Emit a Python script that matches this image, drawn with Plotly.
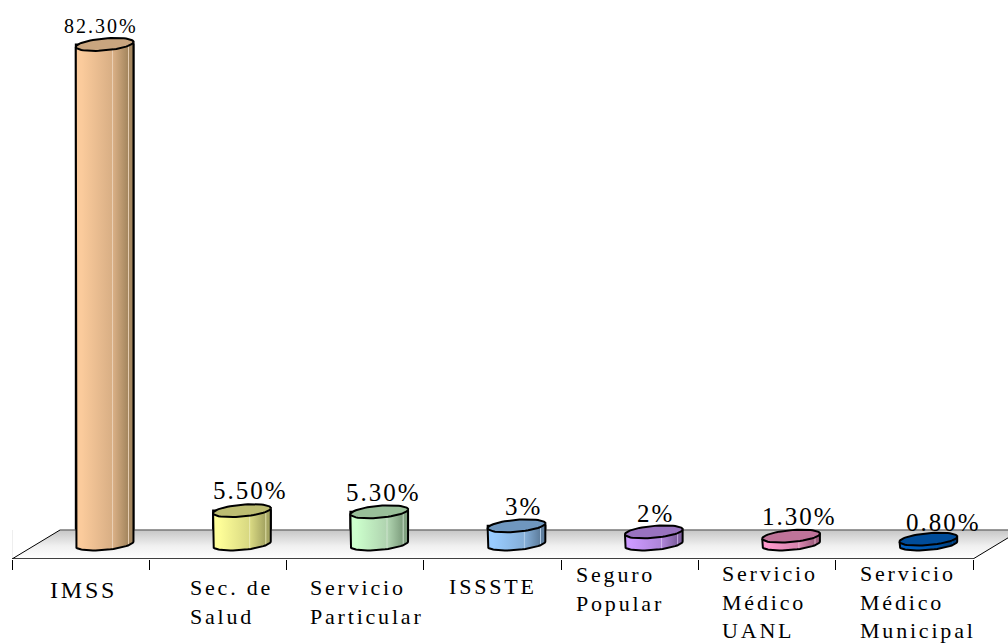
import numpy as np
import plotly.graph_objects as go

# ---- data ----
categories = ["IMSS", "Sec. de<br>Salud", "Servicio<br>Particular", "ISSSTE",
              "Seguro<br>Popular", "Servicio<br>Médico<br>UANL", "Servicio<br>Médico<br>Municipal"]
values = [82.3, 5.5, 5.3, 3.0, 2.0, 1.3, 0.8]
value_labels = ["82.30%", "5.50%", "5.30%", "3%", "2%", "1.30%", "0.80%"]

# ---- style ----
light = ["#FBCB9C", "#FFFF99", "#CCFFCC", "#99CCFF", "#CC99FF", "#FF99CC", "#0060C0"]
dark = ["#A5875F", "#A5A562", "#7F9F7F", "#5F7F9F", "#7F5F9F", "#9F5F7F", "#003C78"]
top = ["#C9A57F", "#BDBD72", "#99BF99", "#6F97BF", "#9973BF", "#BF7399", "#004C99"]
mid = ["#D9AF85", "#D8D882", "#B0D4B0", "#85AFD8", "#AE85D8", "#D885AE", "#0054A8"]
streak = ["#EBD2B8", "#ECECB8", "#D2E6D2", "#B8D2EC", "#D2B8EC", "#ECB8D2", "#0054A8"]
label_size = [20, 25, 25, 25, 25, 25, 25]
label_dx = [-4, 9, 4, 7, 2, 8, 15]
label_dy = [18, 20, 19, 19, 18, 20, 17]
cat_size = [24, 22, 22, 22, 22, 22, 22]
cat_dx = [36, 39, 21, 23, 13, 22, 22]
cat_dy = [16, 14, 14, 13, 1, 0, 0]

PX_X = 961 / 7
PX_Y = 6.07
Y_FRONT = -15 / PX_Y
Y_BACK = 14 / PX_Y
DEPTH = 24 / PX_X
SLANT = 48 / PX_X
A = 0.21
B = 6.0 / PX_Y
S = 2.5 / PX_Y

fig = go.Figure()

# floor
fig.add_trace(go.Scatter(
    x=[-0.5, 6.5, 6.5 + SLANT, -0.5 + SLANT, -0.5],
    y=[Y_FRONT, Y_FRONT, Y_BACK, Y_BACK, Y_FRONT],
    mode="none", fill="toself", hoverinfo="skip",
    fillgradient=dict(type="vertical", colorscale=[[0, "#FFFFFF"], [0.45, "#F0F0F0"], [1, "#C6C6C6"]]),
))
for xs, ys, col, w in [
    ([-0.5, -0.5 + SLANT], [Y_FRONT, Y_BACK], "#000000", 1),
    ([6.5, 6.5 + SLANT], [Y_FRONT, Y_BACK], "#000000", 1),
    ([-0.5 + SLANT, 6.5 + SLANT], [Y_BACK, Y_BACK], "#777777", 1.5),
    ([-0.5, -0.5], [Y_FRONT, Y_BACK], "#DDDDDD", 1),
    ([-0.5, 6.5], [Y_FRONT, Y_FRONT], "#000000", 1.5),
]:
    fig.add_trace(go.Scatter(x=xs, y=ys, mode="lines", cliponaxis=False, hoverinfo="skip",
                             line=dict(color=col, width=w)))

# cylinder bodies (bars) and their shading
centers = [i + DEPTH for i in range(len(values))]
fig.add_trace(go.Bar(x=centers, y=values, base=0, width=2 * A, hoverinfo="skip",
                     marker=dict(color=mid, line=dict(color="#000000", width=2))))

t_all = np.linspace(0, 2 * np.pi, 61)
t_front = np.linspace(np.pi, 0, 31)
for c, v, lo, md, st, hi, tp in zip(centers, values, light, mid, streak, dark, top):
    bx = c + A * np.cos(t_front)
    by = -B * np.sin(t_front) + S * np.cos(t_front)
    px = [c - A] + list(bx) + [c + A, c - A]
    py = [v - S] + list(by) + [v + S, v - S]
    fig.add_trace(go.Scatter(
        x=px, y=py, mode="lines", fill="toself", hoverinfo="skip", cliponaxis=False,
        line=dict(color="#000000", width=2),
        fillgradient=dict(type="horizontal",
                          colorscale=[[0, lo], [0.1, lo], [0.62, md], [0.635, st], [0.65, md],
                                      [0.9, hi], [0.915, st], [0.93, hi], [1, hi]]),
    ))
    fig.add_trace(go.Scatter(
        x=c + A * np.cos(t_all), y=v - B * np.sin(t_all) + S * np.cos(t_all),
        mode="lines", fill="toself", fillcolor=tp, hoverinfo="skip", cliponaxis=False,
        line=dict(color="#000000", width=2),
    ))

ann = []
for c, v, txt, sz, dx, dy in zip(centers, values, value_labels, label_size, label_dx, label_dy):
    ann.append(dict(x=c, y=v, xref="x", yref="y", text=txt, showarrow=False, xanchor="center",
                    yanchor="middle", xshift=dx, yshift=dy,
                    font=dict(family="Liberation Serif", size=sz, color="#000000")))
for i, (txt, sz, dx, dy) in enumerate(zip(categories, cat_size, cat_dx, cat_dy)):
    ann.append(dict(x=i - 0.5, y=0, xref="x", yref="paper", text=txt, showarrow=False,
                    xanchor="left", yanchor="top", align="left", xshift=dx, yshift=-dy,
                    font=dict(family="Liberation Serif", size=sz, color="#000000")))

fig.update_layout(
    width=1008, height=644, autosize=False, showlegend=False,
    margin=dict(l=12, r=0, t=0, b=85),
    paper_bgcolor="#FFFFFF", plot_bgcolor="rgba(0,0,0,0)",
    annotations=ann,
    xaxis=dict(range=[-0.5, 6.5 + 35 / PX_X], tickmode="array", tickvals=[i - 0.5 for i in range(8)],
               showticklabels=False, ticks="outside", ticklen=10, tickcolor="#000000", tickwidth=1,
               showline=False, showgrid=False, zeroline=False),
    yaxis=dict(range=[Y_FRONT, 544 / PX_Y], visible=False, showgrid=False, zeroline=False),
)

spacing_js = """
document.body.style.margin = '0';
document.querySelectorAll('.annotation-text').forEach(function (t) {
  t.style.letterSpacing = t.textContent.indexOf('%') >= 0 ? '2px' : '2.8px';
});
"""
fig.write_html("out.html", post_script=spacing_js, config={"displayModeBar": False})
